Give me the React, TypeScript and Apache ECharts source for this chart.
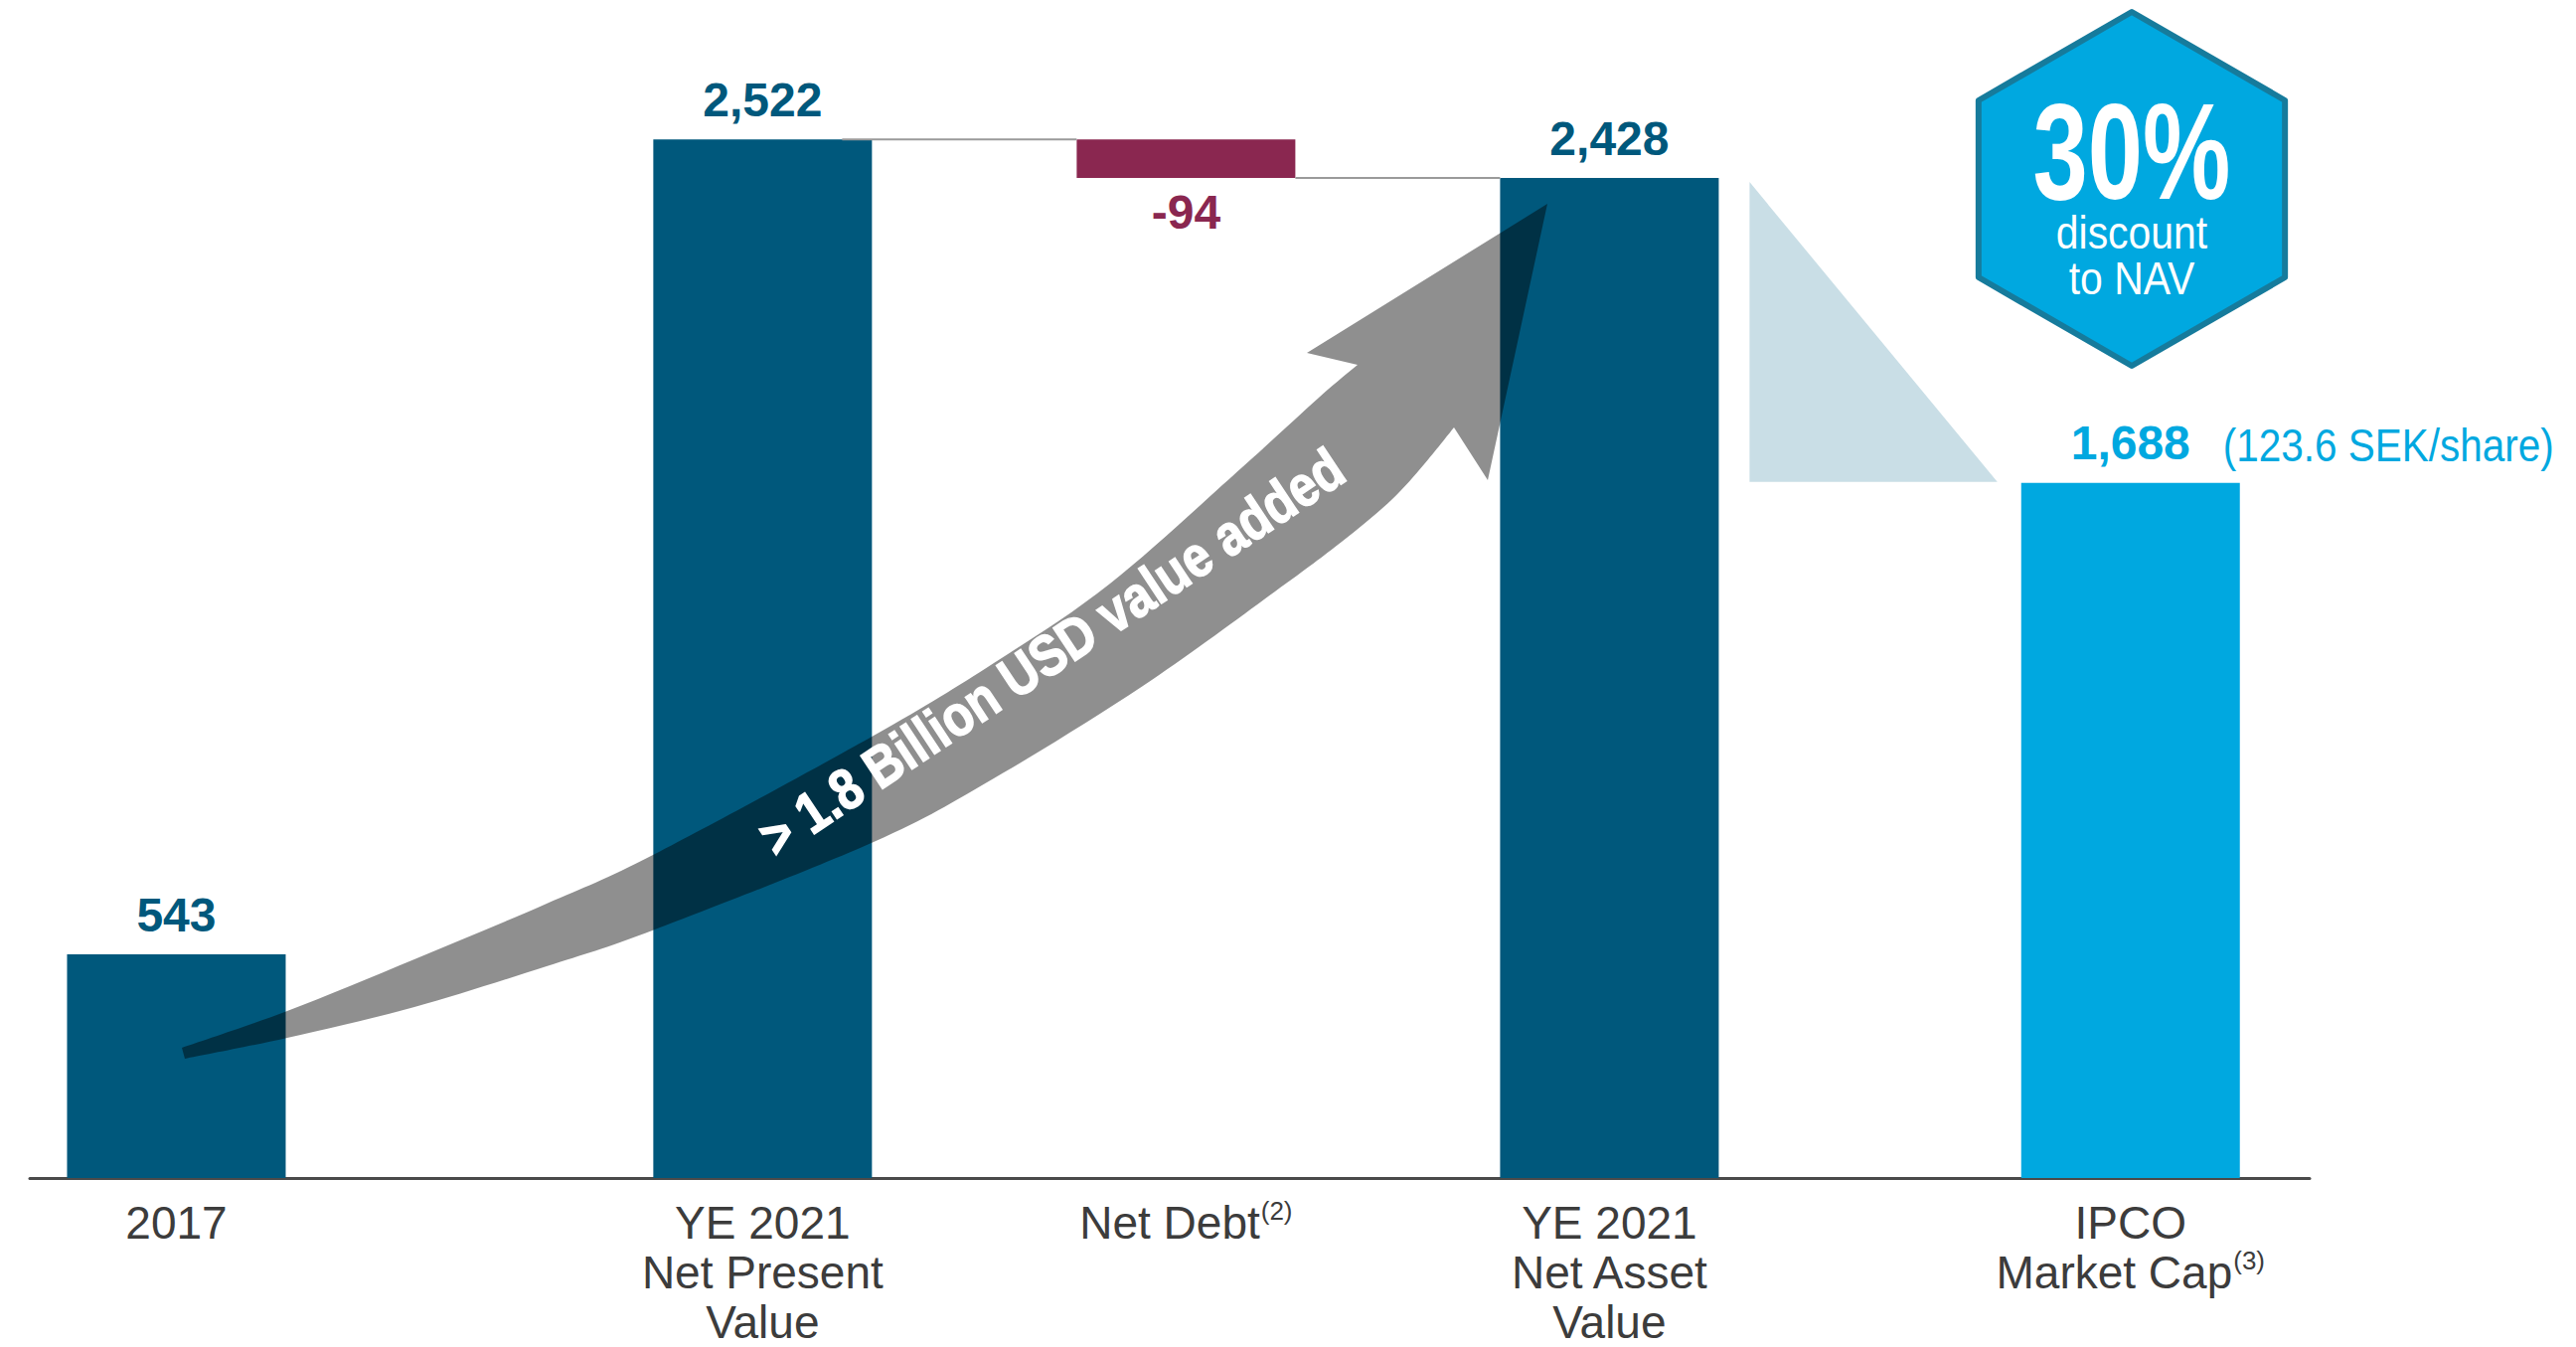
import React, { useEffect, useRef } from 'react';
import * as echarts from 'echarts';

// ---------------- data ----------------
const categories = ['2017', 'YE 2021\nNet Present\nValue', 'Net Debt', 'YE 2021\nNet Asset\nValue', 'IPCO\nMarket Cap'];
const footnotes = ['', '', '(2)', '', '(3)'];
const values = [543, 2522, -94, 2428, 1688];
const valueLabels = ['543', '2,522', '-94', '2,428', '1,688'];
const barKinds = ['total', 'total', 'delta', 'total', 'market'];
const slotOfBar = [4, 22, 35, 48, 64];
const slotCount = 70;
const marketNote = '(123.6 SEK/share)';
const badgeHeadline = '30%';
const badgeLines = ['discount', 'to NAV'];
const arrowCaption = '> 1.8 Billion USD value added';
const yMin = 0;
const yMax = 2800;

// ---------------- styles ----------------
const DARK = '#00587C';
const MAROON = '#8A2750';
const CYAN = '#00A8E0';
const LIGHT = '#C9DEE6';
const TEXT = '#3C3C3C';
const FONT = '"Liberation Sans", Arial, sans-serif';
const BAR_W = 220;

// decorative arrow outline (pixel geometry)
const arrowUpper = [
  [183, 1054], [289, 1017], [417, 965], [550, 909], [659, 859], [879, 740],
  [1000, 667], [1117, 587], [1250, 470], [1327, 400], [1366, 367],
];
const arrowHead = [[1315, 355], [1557, 205], [1497, 483], [1463, 430]];
const arrowLower = [
  [1463, 430], [1433, 467], [1400, 503], [1350, 545], [1283, 595], [1150, 690],
  [1000, 783], [879, 847], [659, 935], [550, 972], [417, 1013], [289, 1044], [186, 1065],
];

function catmull(pts: number[][]): string {
  let d = '';
  for (let i = 0; i < pts.length - 1; i++) {
    const p0 = pts[i - 1] || pts[i];
    const p1 = pts[i];
    const p2 = pts[i + 1];
    const p3 = pts[i + 2] || p2;
    const c1 = [p1[0] + (p2[0] - p0[0]) / 6, p1[1] + (p2[1] - p0[1]) / 6];
    const c2 = [p2[0] - (p3[0] - p1[0]) / 6, p2[1] - (p3[1] - p1[1]) / 6];
    d += ` C ${c1[0].toFixed(1)} ${c1[1].toFixed(1)} ${c2[0].toFixed(1)} ${c2[1].toFixed(1)} ${p2[0]} ${p2[1]}`;
  }
  return d;
}

const arrowPath =
  `M ${arrowUpper[0][0]} ${arrowUpper[0][1]}` +
  catmull(arrowUpper) +
  arrowHead.map((p) => ` L ${p[0]} ${p[1]}`).join('') +
  catmull(arrowLower) +
  ' Z';

echarts.graphic.registerShape('valueArrow', echarts.graphic.extendPath(arrowPath, {}));

function colorOf(kind: string) {
  if (kind === 'delta') return MAROON;
  if (kind === 'market') return CYAN;
  return DARK;
}

export default function App() {
  const ref = useRef<HTMLDivElement>(null);

  useEffect(() => {
    if (!ref.current) return;
    const chart = echarts.init(ref.current, undefined, { renderer: 'svg' });

    const slotLabels: string[] = new Array(slotCount).fill('');
    categories.forEach((c, i) => {
      slotLabels[slotOfBar[i]] = c + (footnotes[i] ? `{sup|${footnotes[i]}}` : '');
    });

    const baseData: any[] = new Array(slotCount).fill(0);
    const barData: any[] = new Array(slotCount).fill('-');
    let running = 0;
    values.forEach((v, i) => {
      const s = slotOfBar[i];
      const color = colorOf(barKinds[i]);
      const label = {
        show: true,
        position: v < 0 ? 'bottom' : 'top',
        distance: v < 0 ? 10 : 16,
        formatter: valueLabels[i],
        color,
        fontSize: 48,
        fontWeight: 'bold',
        fontFamily: FONT,
      };
      if (barKinds[i] === 'delta') {
        const low = running + Math.min(v, 0);
        baseData[s] = low;
        barData[s] = { value: Math.abs(v), itemStyle: { color }, label };
        running += v;
      } else {
        barData[s] = { value: v, itemStyle: { color }, label };
        running = v;
      }
    });

    chart.setOption({
      animation: false,
      grid: { left: 30, right: 268, top: 25, bottom: 169 },
      xAxis: {
        type: 'category',
        data: slotLabels,
        boundaryGap: true,
        axisTick: { show: false },
        axisLine: { lineStyle: { color: '#4A4A4A', width: 3 } },
        axisLabel: {
          interval: 0,
          margin: 20,
          color: TEXT,
          fontSize: 46,
          lineHeight: 50,
          fontFamily: FONT,
          rich: {
            sup: { fontSize: 26, lineHeight: 26, verticalAlign: 'top', color: TEXT, fontFamily: FONT, padding: [0, 0, 0, 1] },
          },
        },
      },
      yAxis: { type: 'value', min: yMin, max: yMax, show: false, splitLine: { show: false } },
      series: [
        {
          name: 'base',
          type: 'bar',
          stack: 'w',
          barWidth: BAR_W,
          silent: true,
          itemStyle: { color: 'rgba(0,0,0,0)' },
          data: baseData,
          z: 1,
        },
        {
          name: 'value',
          type: 'bar',
          stack: 'w',
          barWidth: BAR_W,
          z: 3,
          label: { show: false },
          data: barData,
        },
      ],
    });

    const px = (i: number, v: number) =>
      chart.convertToPixel({ gridIndex: 0 }, [slotOfBar[i], v]) as number[];
    const half = BAR_W / 2;

    // waterfall connectors
    const connectorEls: any[] = [];
    let level = values[0];
    for (let i = 1; i < values.length; i++) {
      if (barKinds[i] === 'delta') {
        const a = px(i - 1, values[i - 1]);
        const b = px(i, values[i - 1]);
        connectorEls.push({ x1: a[0] + half - 30, y1: a[1], x2: b[0] - half, y2: b[1] });
        level = values[i - 1] + values[i];
        const c = px(i, level);
        const d = px(i + 1, level);
        connectorEls.push({ x1: c[0] + half, y1: c[1], x2: d[0] - half, y2: d[1] });
      }
    }

    const navPt = px(3, values[3]);
    const mktPt = px(4, values[4]);

    const hexC = [2145, 190];
    const hexR = 178;
    const hexPts: number[][] = [];
    for (let k = 0; k < 6; k++) {
      const a = -Math.PI / 2 + (k * Math.PI) / 3;
      hexPts.push([hexC[0] + hexR * Math.cos(a), hexC[1] + hexR * Math.sin(a)]);
    }

    chart.setOption({
      graphic: [
        ...connectorEls.map((s) => ({
          type: 'line',
          z: 5,
          silent: true,
          shape: s,
          style: { stroke: '#9A9A9A', lineWidth: 2 },
        })),
        {
          type: 'polygon',
          z: 1,
          silent: true,
          shape: {
            points: [
              [navPt[0] + half + 31, navPt[1] + 4],
              [navPt[0] + half + 31, mktPt[1] - 1],
              [mktPt[0] - half - 24, mktPt[1] - 1],
            ],
          },
          style: { fill: LIGHT },
        },
        {
          type: 'text',
          z: 10,
          silent: true,
          x: mktPt[0] + 93,
          y: mktPt[1] - 38,
          scaleX: 0.88,
          style: {
            text: marketNote,
            fill: CYAN,
            font: `46px ${FONT}`,
            textAlign: 'left',
            textVerticalAlign: 'middle',
          },
        },
        {
          type: 'valueArrow',
          z: 20,
          silent: true,
          x: 0,
          y: 0,
          style: { fill: 'rgba(0,0,0,0.44)', stroke: 'none' },
        },
        {
          type: 'text',
          z: 21,
          silent: true,
          x: 1058,
          y: 656,
          rotation: 0.586,
          scaleX: 0.85,
          style: {
            text: arrowCaption,
            fill: '#FFFFFF',
            stroke: '#FFFFFF',
            lineWidth: 1.5,
            font: `bold 58px ${FONT}`,
            textAlign: 'center',
            textVerticalAlign: 'middle',
          },
        },
        {
          type: 'polygon',
          z: 30,
          silent: true,
          shape: { points: hexPts },
          style: { fill: CYAN, stroke: '#167B9C', lineWidth: 6, lineJoin: 'round' },
        },
        {
          type: 'text',
          z: 31,
          silent: true,
          x: hexC[0],
          y: 152,
          scaleX: 0.72,
          style: {
            text: badgeHeadline,
            fill: '#FFFFFF',
            font: `bold 138px ${FONT}`,
            textAlign: 'center',
            textVerticalAlign: 'middle',
          },
        },
        {
          type: 'text',
          z: 31,
          silent: true,
          x: hexC[0],
          y: 234,
          scaleX: 0.89,
          style: {
            text: badgeLines[0],
            fill: '#FFFFFF',
            font: `46px ${FONT}`,
            textAlign: 'center',
            textVerticalAlign: 'middle',
          },
        },
        {
          type: 'text',
          z: 31,
          silent: true,
          x: hexC[0],
          y: 280,
          scaleX: 0.89,
          style: {
            text: badgeLines[1],
            fill: '#FFFFFF',
            font: `46px ${FONT}`,
            textAlign: 'center',
            textVerticalAlign: 'middle',
          },
        },
      ],
    });

    return () => chart.dispose();
  }, []);

  return (
    <div
      ref={ref}
      style={{ position: 'absolute', left: 0, top: 0, width: '2592px', height: '1355px', background: '#FFFFFF' }}
    />
  );
}
